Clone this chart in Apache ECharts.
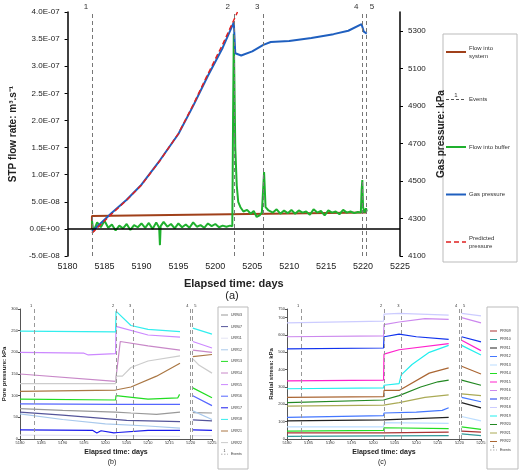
<!DOCTYPE html>
<html>
<head>
<meta charset="utf-8">
<script src="https://cdn.jsdelivr.net/npm/echarts@6/dist/echarts.min.js"></script>
<style>html,body{margin:0;padding:0;background:#fff}#main{width:520px;height:470px}</style>
</head>
<body>
<div id="main"></div>
<script>
// ---- data ----
const eventDays = [5183.3, 5202.5, 5206.5, 5219.9, 5220.4]
const eventLabels = ['1', '2', '3', '4', '5']

// panel (a): flow rates in 1e-8 m3/s, pressures in kPa
const flowSystem = [[5183.3, 0], [5183.3, 2.4], [5220.5, 3.0]]
const flowBuffer = [
  [5183.3, 1.5], [5183.5, -0.5], [5184, 1.2], [5184.5, 0.3], [5185, 1.5], [5185.5, 0.2], [5186, 0.8], [5186.5, -0.3],
  [5187, 0.6], [5187.5, 0.1], [5188, 0.9], [5188.5, -0.2], [5189, 0.7], [5189.5, 0.3], [5190, 1.0], [5190.5, 0.2],
  [5191, 1.1], [5191.5, 0.0], [5192, 1.2], [5192.4, 0.2], [5192.5, -3.0], [5192.6, 0.5], [5193, 1.3], [5193.5, 0.4],
  [5194, 0.9], [5194.5, 0.1], [5195, 1.0], [5195.5, 0.3], [5196, 0.8], [5196.5, 0.2], [5197, 1.2], [5197.5, 0.4],
  [5198, 0.7], [5198.5, 0.2], [5199, 1.0], [5199.5, 0.5], [5200, 0.9], [5200.5, 0.3], [5201, 0.6], [5201.5, 0.4],
  [5202, 0.6], [5202.3, 0.5], [5202.4, 20], [5202.5, 36], [5202.7, 15], [5202.9, 8], [5203.1, 5], [5203.4, 4],
  [5203.8, 3.2], [5204.3, 3.5], [5204.8, 2.8], [5205.2, 3.3], [5205.6, 2.2], [5206, 2.5], [5206.3, 3.0], [5206.5, 8],
  [5206.6, 10.5], [5206.8, 4], [5207.2, 3.4], [5207.8, 3.0], [5208.3, 3.6], [5208.8, 2.8], [5209.3, 3.4], [5209.8, 2.9],
  [5210.3, 3.5], [5210.8, 2.8], [5211.3, 3.4], [5211.8, 3.0], [5212.3, 3.2], [5212.8, 2.6], [5213.3, 3.6], [5213.8, 3.0],
  [5214.3, 3.3], [5214.8, 2.5], [5215.3, 3.4], [5215.8, 3.0], [5216.3, 3.2], [5216.8, 2.7], [5217.3, 3.5], [5217.8, 3.0],
  [5218.3, 3.2], [5218.8, 2.9], [5219.3, 3.1], [5219.7, 3.0], [5219.8, 7], [5219.9, 9], [5220.0, 4], [5220.2, 3.0],
  [5220.4, 3.8], [5220.5, 3.2]
]
const gasPressure = [
  [5183.3, 4230], [5186, 4330], [5188, 4400], [5190, 4480], [5192.5, 4610], [5195, 4750], [5197, 4900], [5199, 5060],
  [5201, 5210], [5202.5, 5345], [5202.7, 5180], [5203.5, 5168], [5205, 5190], [5206.5, 5225], [5207.5, 5240], [5210, 5245],
  [5213, 5262], [5216, 5282], [5218, 5300], [5219.8, 5335], [5220.1, 5295], [5220.5, 5285]
]
const predicted = [[5183.3, 4222], [5186, 4325], [5188, 4398], [5190, 4478], [5192.5, 4608], [5195, 4752], [5197, 4905], [5199, 5070], [5201, 5228], [5203, 5400]]

// panel (b): pore pressure, kPa  (segments before and after the data gap)
const urNames = ['UR903', 'UR907', 'UR911', 'UR912', 'UR913', 'UR914', 'UR915', 'UR916', 'UR917', 'UR918', 'UR921', 'UR922']
const urColors = ['#999999', '#55559a', '#e4e4f4', '#a9c9ec', '#22dd22', '#c888c8', '#cc88ff', '#5566ff', '#1a1aee', '#33eeee', '#aa7744', '#cccccc']
const urData = [
  [[[5180, 70], [5190, 66], [5202.4, 62], [5206, 60], [5212, 57], [5217.5, 62]], [[5220.5, 61], [5225, 60]]],
  [[[5180, 62], [5190, 55], [5200, 47], [5205, 43], [5217.5, 40]], [[5220.5, 44], [5225, 42]]],
  [[[5180, 9], [5202.4, 8], [5217.5, 6]], [[5220.5, 8], [5225, 7]]],
  [[[5180, 58], [5190, 45], [5200, 35], [5210, 30], [5217.5, 25]], [[5220.5, 65], [5225, 45]]],
  [[[5180, 92], [5202.4, 90], [5202.5, 100], [5210, 92], [5217, 95], [5217.4, 103]], [[5220.5, 118], [5225, 95]]],
  [[[5180, 150], [5202.4, 133], [5203.5, 225], [5210, 215], [5217.5, 205]], [[5220.5, 205], [5225, 200]]],
  [[[5180, 200], [5195, 198], [5196, 194], [5202.4, 197], [5202.5, 260], [5210, 240], [5217.5, 235]], [[5220.5, 225], [5225, 210]]],
  [[[5180, 81], [5202.4, 80], [5202.5, 84], [5210, 80], [5217.5, 80]], [[5220.5, 100], [5225, 77]]],
  [[[5180, 21], [5197, 20], [5198, 14], [5199, 19], [5202, 14], [5203, 15], [5210, 20], [5217.5, 20]], [[5220.5, 21], [5225, 20]]],
  [[[5180, 249], [5202.4, 247], [5202.5, 295], [5206, 262], [5210, 253], [5217.5, 248]], [[5220.5, 256], [5225, 242]]],
  [[[5180, 110], [5202.4, 113], [5206, 120], [5212, 145], [5217.5, 175]], [[5220.5, 190], [5225, 195]]],
  [[[5180, 128], [5202.4, 128], [5202.5, 145], [5204, 145], [5206, 165], [5210, 180], [5217.5, 192]], [[5220.5, 185], [5222, 170], [5225, 152]]]
]

// panel (c): radial stress, kPa
const prNames = ['PR909', 'PR910', 'PR911', 'PR912', 'PR913', 'PR914', 'PR915', 'PR916', 'PR917', 'PR918', 'PR919', 'PR920', 'PR921', 'PR922']
const prColors = ['#aa3333', '#339999', '#222222', '#4477ff', '#bbddff', '#22dd22', '#ff22cc', '#cc88ee', '#1133ee', '#ccccff', '#22eeee', '#228822', '#aaaa55', '#aa6633']
const prData = [
  [[[5180, 35], [5202.4, 35], [5202.5, 40], [5217.5, 40]], [[5220.5, 45], [5225, 40]]],
  [[[5180, 15], [5202.4, 18], [5202.5, 25], [5217.5, 20]], [[5220.5, 30], [5225, 20]]],
  [[[5180, 105], [5202.4, 110], [5202.5, 115], [5210, 118], [5217.5, 125]], [[5220.5, 210], [5225, 180]]],
  [[[5180, 125], [5202.4, 135], [5202.5, 150], [5210, 155], [5216, 165], [5217.5, 180]], [[5220.5, 240], [5225, 215]]],
  [[[5180, 70], [5202.4, 70], [5202.5, 95], [5217.5, 90]], [[5220.5, 130], [5225, 105]]],
  [[[5180, 45], [5202.4, 50], [5202.5, 65], [5217.5, 60]], [[5220.5, 70], [5225, 55]]],
  [[[5180, 335], [5202.4, 340], [5202.5, 490], [5206, 515], [5217.5, 550]], [[5220.5, 570], [5225, 510]]],
  [[[5180, 590], [5202.4, 595], [5202.5, 660], [5206, 675], [5212, 695], [5217.5, 690]], [[5220.5, 700], [5225, 670]]],
  [[[5180, 520], [5202.4, 525], [5202.5, 590], [5206, 605], [5210, 590], [5217.5, 575]], [[5220.5, 590], [5225, 560]]],
  [[[5180, 670], [5202.4, 680], [5202.5, 720], [5206, 725], [5217.5, 715]], [[5220.5, 725], [5225, 710]]],
  [[[5180, 290], [5202.4, 295], [5202.5, 310], [5206, 320], [5206.5, 370], [5209, 430], [5213, 500], [5217.5, 540]], [[5220.5, 540], [5225, 485]]],
  [[[5180, 210], [5202.4, 225], [5202.5, 230], [5206, 250], [5211, 300], [5215, 330], [5217.5, 340]], [[5220.5, 340], [5225, 310]]],
  [[[5180, 190], [5202.4, 195], [5202.5, 205], [5206, 210], [5212, 240], [5217.5, 255]], [[5220.5, 260], [5225, 250]]],
  [[[5180, 240], [5202.4, 245], [5202.5, 280], [5206, 280], [5213, 380], [5217.5, 410]], [[5220.5, 420], [5225, 375]]]
]

// ---- helpers ----
function joinSegments(segs) {
  const out = []
  segs.forEach((s, i) => {
    if (i > 0) out.push([s[0][0] - 0.01, '-'])
    s.forEach(p => out.push(p))
  })
  return out
}
function sci(v) {
  if (Math.abs(v) < 1e-20) return '0.0E+00'
  const s = v.toExponential(1).toUpperCase()
  return s.replace(/E([+-])(\d)$/, 'E$10$2')
}
const plain = v => String(v)
function eventLines(xi, yi, fs, color, off) {
  return {
    type: 'line', xAxisIndex: xi, yAxisIndex: yi, data: [], silent: true,
    markLine: {
      symbol: 'none', silent: true,
      lineStyle: { type: [4, 3], color: color, width: 1 },
      label: { position: 'end', formatter: '{b}', fontSize: fs, color: '#333', distance: 1 },
      data: eventDays.map((d, i) => ({
        xAxis: d, name: eventLabels[i],
        label: { offset: [i === 4 ? off : -off, 0] }
      }))
    }
  }
}

const chart = echarts.init(document.getElementById('main'))
const font = 'Liberation Sans, Arial, sans-serif'
const smallAxis = (gi, min, max, interval) => ({
  type: 'value', gridIndex: gi, min: min, max: max, interval: interval,
  axisLine: { show: true, lineStyle: { color: '#555', width: 1 } },
  axisTick: { show: true, length: 2 },
  axisLabel: { fontSize: 4, color: '#333', margin: 2, formatter: plain },
  splitLine: { show: false }
})

const series = [
  eventLines(0, 0, 8, '#777', 6),
  {
    type: 'line', xAxisIndex: 0, yAxisIndex: 0, data: [], silent: true,
    markLine: { symbol: 'none', silent: true, label: { show: false }, lineStyle: { color: '#000', type: 'solid', width: 1.5 }, data: [{ yAxis: 0 }] }
  },
  { name: 'Flow into system', type: 'line', xAxisIndex: 0, yAxisIndex: 0, showSymbol: false, lineStyle: { color: '#a0401a', width: 2 }, data: flowSystem.map(p => [p[0], p[1] * 1e-8]) },
  { name: 'Flow into buffer', type: 'line', xAxisIndex: 0, yAxisIndex: 0, showSymbol: false, lineStyle: { color: '#1fb02e', width: 2 }, data: flowBuffer.map(p => [p[0], p[1] * 1e-8]) },
  { name: 'Gas pressure', type: 'line', xAxisIndex: 0, yAxisIndex: 1, showSymbol: false, lineStyle: { color: '#1f5fbf', width: 2 }, data: gasPressure },
  { name: 'Predicted pressure', type: 'line', xAxisIndex: 0, yAxisIndex: 1, showSymbol: false, lineStyle: { color: '#e02020', width: 1.5, type: [5, 3] }, data: predicted },
  eventLines(1, 2, 4, '#999', 3),
  eventLines(2, 3, 4, '#999', 3)
]
urNames.forEach((n, i) => series.push({ name: n, type: 'line', xAxisIndex: 1, yAxisIndex: 2, showSymbol: false, lineStyle: { color: urColors[i], width: 1.2 }, data: joinSegments(urData[i]) }))
prNames.forEach((n, i) => series.push({ name: n, type: 'line', xAxisIndex: 2, yAxisIndex: 3, showSymbol: false, lineStyle: { color: prColors[i], width: 1.2 }, data: joinSegments(prData[i]) }))

// legends drawn as boxes like in the figure
const graphic = []
function legendBox(x, y, w, h, items, lineW, fs, gap, y0) {
  graphic.push({ type: 'rect', shape: { x: x, y: y, width: w, height: h }, style: { fill: '#fff', stroke: '#bbb', lineWidth: 1 } })
  items.forEach((it, i) => {
    const yy = y0 + i * gap
    graphic.push({ type: 'line', shape: { x1: x + 3, y1: yy, x2: x + 3 + lineW, y2: yy }, style: { stroke: it.color, lineWidth: it.w || 1.5, lineDash: it.dash || null } })
    if (it.mark) graphic.push({ type: 'text', x: x + 3 + lineW / 2, y: yy - 1, style: { text: it.mark, fontSize: fs, fill: '#333', align: 'center', verticalAlign: 'bottom', fontFamily: font } })
    graphic.push({ type: 'text', x: x + 6 + lineW, y: yy, style: { text: it.name, fontSize: fs, fill: '#333', verticalAlign: 'middle', fontFamily: font, lineHeight: fs + 2 } })
  })
}
legendBox(443, 34, 74, 228, [
  { name: 'Flow into\nsystem', color: '#a0401a', w: 2 },
  { name: 'Events', color: '#555', w: 1, dash: [3, 2], mark: '1' },
  { name: 'Flow into buffer', color: '#1fb02e', w: 2 },
  { name: 'Gas pressure', color: '#1f5fbf', w: 2 },
  { name: 'Predicted\npressure', color: '#e02020', w: 1.5, dash: [5, 3] }
], 20, 6, 47.5, 52)
legendBox(218, 307, 30, 162, urNames.map((n, i) => ({ name: n, color: urColors[i], w: 1 })).concat([{ name: 'Events', color: '#777', w: 0.6, dash: [1.5, 1.5], mark: '1' }]), 7, 3.5, 11.6, 315)
legendBox(487, 307, 31, 162, prNames.map((n, i) => ({ name: n, color: prColors[i], w: 1 })).concat([{ name: 'Events', color: '#777', w: 0.6, dash: [1.5, 1.5], mark: '1' }]), 7, 3.5, 8.5, 331)
graphic.push(
  { type: 'text', x: 232, y: 290, style: { text: '(a)', fontSize: 11, fill: '#222', align: 'center', fontFamily: font } },
  { type: 'text', x: 112, y: 459, style: { text: '(b)', fontSize: 7, fill: '#222', align: 'center', fontFamily: font } },
  { type: 'text', x: 382, y: 459, style: { text: '(c)', fontSize: 7, fill: '#222', align: 'center', fontFamily: font } }
)

chart.setOption({
  animation: false,
  textStyle: { fontFamily: font },
  grid: [
    { left: 55, right: 120, top: 12, bottom: 214 },
    { left: 20, right: 308, top: 309, bottom: 31 },
    { left: 287, right: 39, top: 309, bottom: 31 }
  ],
  xAxis: [
    {
      type: 'value', gridIndex: 0, min: 5180, max: 5225, interval: 5,
      name: 'Elapsed time: days', nameLocation: 'middle', nameGap: 22,
      nameTextStyle: { fontSize: 11, fontWeight: 'bold', color: '#222' },
      axisLine: { show: false }, axisTick: { show: false },
      axisLabel: { fontSize: 9, color: '#222', margin: 6, formatter: plain }, splitLine: { show: false }
    },
    Object.assign(smallAxis(1, 5180, 5225, 5), { name: 'Elapsed time: days', nameLocation: 'middle', nameGap: 10, nameTextStyle: { fontSize: 7, fontWeight: 'bold', color: '#222' } }),
    Object.assign(smallAxis(2, 5180, 5225, 5), { name: 'Elapsed time: days', nameLocation: 'middle', nameGap: 10, nameTextStyle: { fontSize: 7, fontWeight: 'bold', color: '#222' } })
  ],
  yAxis: [
    {
      type: 'value', gridIndex: 0, min: -5e-8, max: 4e-7, interval: 5e-8,
      name: 'STP flow rate: m³.s⁻¹', nameLocation: 'middle', nameGap: 42,
      nameTextStyle: { fontSize: 10, fontWeight: 'bold', color: '#222' },
      axisLine: { show: true, lineStyle: { color: '#000', width: 1.5 } }, axisTick: { show: true, length: 3, inside: false },
      axisLabel: { fontSize: 8, color: '#222', formatter: sci }, splitLine: { show: false }
    },
    {
      type: 'value', gridIndex: 0, min: 4100, max: 5400, interval: 200, position: 'right',
      name: 'Gas pressure: kPa', nameLocation: 'middle', nameGap: 30, nameRotate: 90,
      nameTextStyle: { fontSize: 10, fontWeight: 'bold', color: '#222' },
      axisLine: { show: true, lineStyle: { color: '#000', width: 1.5 } }, axisTick: { show: true, length: 3 },
      axisLabel: { fontSize: 8, color: '#222', formatter: plain, showMaxLabel: false }, splitLine: { show: false }
    },
    Object.assign(smallAxis(1, 0, 300, 50), { name: 'Pore pressure: kPa', nameLocation: 'middle', nameGap: 12, nameTextStyle: { fontSize: 6, fontWeight: 'bold', color: '#222' } }),
    Object.assign(smallAxis(2, 0, 750, 100), { name: 'Radial stress: kPa', nameLocation: 'middle', nameGap: 12, nameTextStyle: { fontSize: 6, fontWeight: 'bold', color: '#222' } })
  ],
  series: series,
  graphic: graphic
})
</script>
</body>
</html>
